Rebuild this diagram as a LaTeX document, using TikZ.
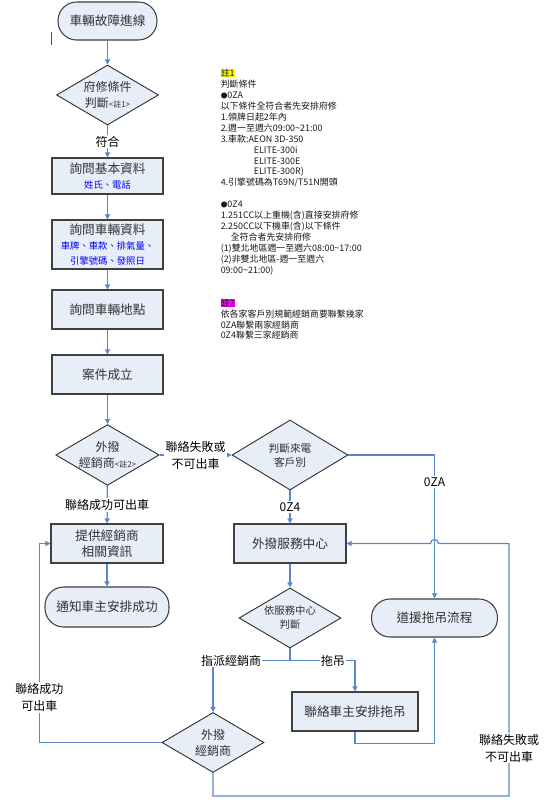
\documentclass[tikz,border=0pt]{standalone}
\usepackage{fontspec}
\setmainfont{Noto Sans CJK TC}
\usetikzlibrary{shapes.geometric,arrows.meta}
\definecolor{fillc}{RGB}{232,238,248}
\definecolor{linec}{RGB}{88,136,204}
\definecolor{txtc}{RGB}{50,50,50}
\definecolor{hlmag}{RGB}{255,0,255}
\definecolor{hlyel}{RGB}{255,255,0}
\begin{document}
\begin{tikzpicture}[x=0.75pt,y=-0.75pt,
  conn/.style={draw=linec,line width=0.9pt,-{Triangle[length=3.8pt,width=3.8pt]}},
  box/.style={rectangle,draw=black!75,fill=fillc,line width=0.8pt,inner sep=1pt,align=center,text=txtc,font=\fontsize{9.5}{12}\selectfont},
  term/.style={box,rounded corners=14pt},
  dia/.style={diamond,draw=black!80,fill=fillc,line width=0.7pt,inner sep=0pt,aspect=1.7,align=center,text=txtc,minimum width=76.5pt,minimum height=45pt,font=\fontsize{9}{12}\selectfont},
  lbl/.style={fill=white,inner sep=1pt,align=center,text=black,font=\fontsize{9}{12.75}\selectfont}
]
\useasboundingbox (0,0) rectangle (543,805);
\fill[white] (0,0) rectangle (543,805);

% stray cursor mark
\draw[black!70,line width=0.6pt] (51,32) -- (51,45);

% left column
\node[term,minimum width=74.25pt,minimum height=28.5pt] (start) at (107.5,21) {車輛故障進線};
\node[dia] (d1) at (107.5,95) {府修條件\\判斷{\fontsize{6}{7}\selectfont <註1>}};
\node[box,minimum width=83.25pt,minimum height=27pt] (b1) at (107.5,176) {詢問基本資料\\[-1pt]{\color{blue}\fontsize{7}{9}\selectfont 姓氏、電話}};
\node[box,minimum width=83.25pt,minimum height=36.75pt] (b2) at (107.5,244.5) {詢問車輛資料\\[-1pt]{\color{blue}\fontsize{7}{9.75}\selectfont 車牌、車款、排氣量、}\\[-1pt]{\color{blue}\fontsize{7}{9.75}\selectfont 引擎號碼、發照日}};
\node[box,minimum width=83.25pt,minimum height=29.25pt] (b3) at (107.5,309.5) {詢問車輛地點};
\node[box,minimum width=83.25pt,minimum height=29.25pt] (b4) at (107.5,374.5) {案件成立};
\node[dia] (d2) at (107.5,455) {外撥\\經銷商{\fontsize{6}{7}\selectfont <註2>}};
\node[box,minimum width=84pt,minimum height=29.25pt,font=\fontsize{9.5}{11.5}\selectfont] (b5) at (107,543.5) {提供經銷商\\相關資訊};
\node[term,minimum width=93pt,minimum height=30pt] (notify) at (107,607) {通知車主安排成功};

% right part
\node[dia,minimum width=87pt,minimum height=52.5pt,font=\fontsize{8}{10.5}\selectfont] (d3) at (290,455) {判斷來電\\客戶別};
\node[box,minimum width=84pt,minimum height=29.25pt] (svc) at (290,543.5) {外撥服務中心};
\node[dia,font=\fontsize{7.8}{10.5}\selectfont] (d5) at (290,618) {依服務中心\\判斷};
\node[term,minimum width=94.5pt,minimum height=28.5pt] (rescue) at (434.5,618) {道援拖吊流程};
\node[box,minimum width=94.5pt,minimum height=29.25pt] (tow) at (355,711.5) {聯絡車主安排拖吊};
\node[dia] (d4) at (213,742.5) {外撥\\經銷商};

% notes
\node[anchor=north west,inner sep=0pt,align=left,text=black!90,font=\fontsize{6.7}{8.2}\selectfont] (note) at (220.5,68.8) {%
{\setlength{\fboxsep}{0pt}\colorbox{hlyel}{註1}}\\
判斷條件\\
{\fontsize{5}{5}\selectfont ●}0ZA\\
以下條件全符合者先安排府修\\
1.領牌日起2年內\\
2.週一至週六09:00\textasciitilde21:00\\
3.車款:AEON 3D-350\\
\hspace*{24.75pt}ELITE-300i\\
\hspace*{24.75pt}ELITE-300E\\
\hspace*{24.75pt}ELITE-300R)\\
4.引擎號碼為T69N/T51N開頭\\
\mbox{}\\
{\fontsize{5}{5}\selectfont ●}0Z4\\
1.251CC以上重機(含)直接安排府修\\
2.250CC以下機車(含)以下條件\\
\hspace*{7.5pt}全符合者先安排府修\\
(1)雙北地區週一至週六08:00\textasciitilde17:00\\
(2)非雙北地區-週一至週六\\
09:00\textasciitilde21:00)\\
\mbox{}\\
\mbox{}\\
{\setlength{\fboxsep}{0pt}\colorbox{hlmag}{註2}}\\
依各家客戶別規範經銷商要聯繫幾家\\
0ZA聯繫兩家經銷商\\
0Z4聯繫三家經銷商};

% connectors
\draw[conn] (start) -- (d1);
\draw[conn] (d1) -- node[lbl] {符合} (b1);
\draw[conn] (b1) -- (b2);
\draw[conn] (b2) -- (b3);
\draw[conn] (b3) -- (b4);
\draw[conn] (b4) -- (d2);
\draw[conn] (d2) -- node[lbl] {聯絡成功可出車} (b5);
\draw[conn] (b5) -- (notify);
\draw[conn] (d2.east) -- node[lbl] {聯絡失敗或\\不可出車} (d3.west);
\draw[conn] (d3.east) -| node[lbl,pos=0.594] {0ZA} (rescue.north);
\draw[conn] (d3.south) -- node[lbl] {0Z4} (svc.north);
\draw[conn] (svc) -- (d5);
\draw[conn] (d5.south) -- ++(0,12) -| node[lbl,pos=0.383] {指派經銷商} (d4.north);
\draw[conn] (d5.south) -- ++(0,12) -| node[lbl,pos=0.33,inner sep=0.5pt] {拖吊} (tow.north);
\draw[conn] (tow.south) -- ++(0,12) -| (rescue.south);
\draw[conn] (d4.west) -| node[lbl,pos=0.614] {聯絡成功\\可出車} ([xshift=-8.25pt]b5.west) -- (b5.west);
\coordinate (rb) at (509,796);
\coordinate (rt) at (509,543.5);
\coordinate (hop) at (438.5,543.5);
\draw[conn] (d4.south) |- (rb) -- node[lbl,pos=0.19] {聯絡失敗或\\不可出車} (rt) -- (hop) arc[start angle=0,end angle=180,radius=3pt] -- (svc.east);
\end{tikzpicture}
\end{document}
